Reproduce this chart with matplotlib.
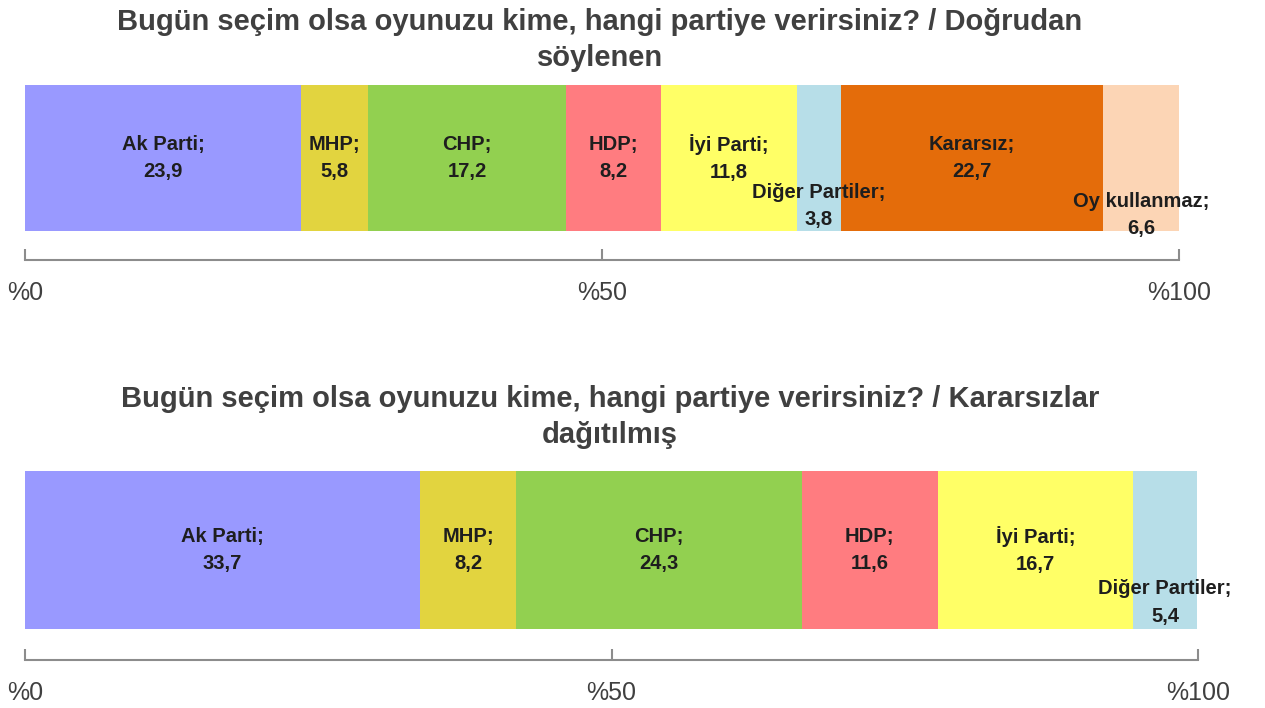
import matplotlib

matplotlib.use("Agg")
import matplotlib.pyplot as plt

parties_direct = ["Ak Parti", "MHP", "CHP", "HDP", "İyi Parti", "Diğer Partiler", "Kararsız", "Oy kullanmaz"]
values_direct = [23.9, 5.8, 17.2, 8.2, 11.8, 3.8, 22.7, 6.6]

parties_dist = ["Ak Parti", "MHP", "CHP", "HDP", "İyi Parti", "Diğer Partiler"]
values_dist = [33.7, 8.2, 24.3, 11.6, 16.7, 5.4]

tick_values = [0, 50, 100]
tick_labels = ["%0", "%50", "%100"]

title_direct = "Bugün seçim olsa oyunuzu kime, hangi partiye verirsiniz? / Doğrudan\nsöylenen"
title_dist = "Bugün seçim olsa oyunuzu kime, hangi partiye verirsiniz? / Kararsızlar\ndağıtılmış"

COLORS = {
    "Ak Parti": "#9999FF",
    "MHP": "#E2D43F",
    "CHP": "#92D050",
    "HDP": "#FF7C80",
    "İyi Parti": "#FFFF66",
    "Diğer Partiler": "#B7DEE8",
    "Kararsız": "#E46C0A",
    "Oy kullanmaz": "#FCD5B5",
}
FONT = ["Liberation Sans", "DejaVu Sans"]
W, H = 1265, 708

fig = plt.figure(figsize=(W / 100, H / 100), dpi=100)


def draw(left, right, top, bottom, parties, values, label_drop):
    ax = fig.add_axes([left / W, 1 - bottom / H, (right - left) / W, (bottom - top) / H])
    start = 0.0
    for party, value in zip(parties, values):
        ax.barh(0.5, value, left=start, height=1.0, color=COLORS[party], linewidth=0)
        ax.text(start + value / 2, 0.5 - label_drop.get(party, 0.0), f"{party};\n{value:.1f}".replace(".", ","),
                ha="center", va="center", fontsize=14.5, fontweight="bold", color="#1e1e1e",
                family=FONT, linespacing=1.55)
        start += value
    ax.set_xlim(0, 100)
    ax.set_ylim(-0.2, 1.0)
    ax.set_yticks([])
    ax.set_xticks(tick_values, tick_labels)
    for side in ("top", "right", "left"):
        ax.spines[side].set_visible(False)
    ax.spines["bottom"].set_color("#8c8c8c")
    ax.spines["bottom"].set_linewidth(1.5)
    ax.tick_params(axis="x", direction="in", length=8, width=1.5, color="#8c8c8c",
                   pad=15, labelsize=18, labelcolor="#404040")
    for label in ax.get_xticklabels():
        label.set_family(FONT)
    return ax


draw(25, 1179, 85, 260, parties_direct, values_direct, {"Diğer Partiler": 0.33, "Oy kullanmaz": 0.39})
draw(25, 1198, 471, 660, parties_dist, values_dist, {"Diğer Partiler": 0.335})

fig.text(600 / W, 1 - 40 / H, title_direct, ha="center", va="center", fontsize=21, fontweight="bold",
         color="#404040", family=FONT, linespacing=1.4)
fig.text(610 / W, 1 - 417 / H, title_dist, ha="center", va="center", fontsize=21, fontweight="bold",
         color="#404040", family=FONT, linespacing=1.4)

fig.savefig("out.png", dpi=100)
